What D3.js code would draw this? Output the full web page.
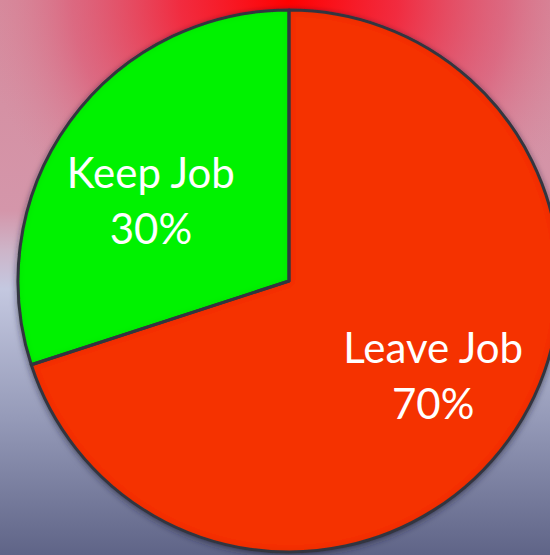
<!DOCTYPE html>
<html><head><meta charset="utf-8">
<script src="https://cdn.jsdelivr.net/npm/d3@7"></script>
<style>html,body{margin:0;padding:0;overflow:hidden;background:#fff}</style>
</head><body>
<svg id="chart" width="550" height="555"></svg>
<script>
const categories = ["Leave Job", "Keep Job"];
const values = [70, 30];
const valueLabels = ["70%", "30%"];
const colors = ["#f53300", "#00f200"];

const svg = d3.select("#chart");
const W = 550, H = 555;
const cx = 289, cy = 281, R = 271;

const defs = svg.append("defs");
const lg = defs.append("linearGradient").attr("id","bg").attr("x1",0).attr("y1",0).attr("x2",0).attr("y2",1);
[[0,"rgb(214,140,158)"],[0.38,"rgb(212,150,170)"],[0.45,"rgb(205,180,200)"],[0.52,"rgb(196,200,224)"],[0.75,"rgb(150,155,185)"],[1,"rgb(95,100,135)"]]
  .forEach(([o,c]) => lg.append("stop").attr("offset",o).attr("stop-color",c));

const rg = defs.append("radialGradient").attr("id","glow").attr("gradientUnits","userSpaceOnUse")
  .attr("cx",cx).attr("cy",0).attr("r",310).attr("gradientTransform",`translate(${cx},0) scale(1,0.9) translate(${-cx},0)`);
[[0,"rgba(255,0,0,1)"],[0.35,"rgba(245,30,50,0.88)"],[0.7,"rgba(225,70,100,0.5)"],[1,"rgba(215,130,150,0)"]]
  .forEach(([o,c]) => rg.append("stop").attr("offset",o).attr("stop-color",c));

const sh = defs.append("filter").attr("id","shadow").attr("x","-20%").attr("y","-20%").attr("width","140%").attr("height","140%");
sh.append("feDropShadow").attr("dx",0).attr("dy",2).attr("stdDeviation",3).attr("flood-color","#202030").attr("flood-opacity",0.6);

const inner = defs.append("filter").attr("id","inner").attr("x","-10%").attr("y","-10%").attr("width","120%").attr("height","120%");
inner.append("feGaussianBlur").attr("in","SourceAlpha").attr("stdDeviation",3).attr("result","blur");
inner.append("feComposite").attr("in","SourceAlpha").attr("in2","blur").attr("operator","arithmetic").attr("k2",1).attr("k3",-1).attr("result","edge");
inner.append("feFlood").attr("flood-color","#000").attr("flood-opacity",0.25);
inner.append("feComposite").attr("in2","edge").attr("operator","in").attr("result","shade");
const m = inner.append("feMerge");
m.append("feMergeNode").attr("in","SourceGraphic");
m.append("feMergeNode").attr("in","shade");

svg.append("rect").attr("width",W).attr("height",H).attr("fill","url(#bg)");
svg.append("rect").attr("width",W).attr("height",H).attr("fill","url(#glow)");

const pie = d3.pie().sort(null).value(d => d)(values);
const arc = d3.arc().innerRadius(0).outerRadius(R);
const labelArc = d3.arc().innerRadius(172).outerRadius(172);

const g = svg.append("g").attr("transform",`translate(${cx},${cy})`);
const slices = g.append("g").attr("filter","url(#shadow)");
slices.selectAll("path.fill").data(pie).join("path")
  .attr("d", arc).attr("fill",(d,i)=>colors[i]).attr("filter","url(#inner)");
slices.selectAll("path.edge").data(pie).join("path")
  .attr("d", arc).attr("fill","none").attr("stroke","#33363f").attr("stroke-width",3).attr("stroke-linejoin","round");

const labels = g.selectAll("g.lbl").data(pie).join("g")
  .attr("transform",(d,i) => {
    const [x,y] = labelArc.centroid(d);
    const adj = i === 1 ? [1, 27] : [5, 0];
    return `translate(${x+adj[0]},${y+adj[1]})`;
  });
labels.append("text").attr("text-anchor","middle").attr("y",-19)
  .attr("fill","#fff").attr("font-family","Lato, 'Open Sans', sans-serif").attr("font-size",42)
  .text((d,i)=>categories[i]);
labels.append("text").attr("text-anchor","middle").attr("y",37)
  .attr("fill","#fff").attr("font-family","Lato, 'Open Sans', sans-serif").attr("font-size",42)
  .text((d,i)=>valueLabels[i]);
</script>
</body></html>
